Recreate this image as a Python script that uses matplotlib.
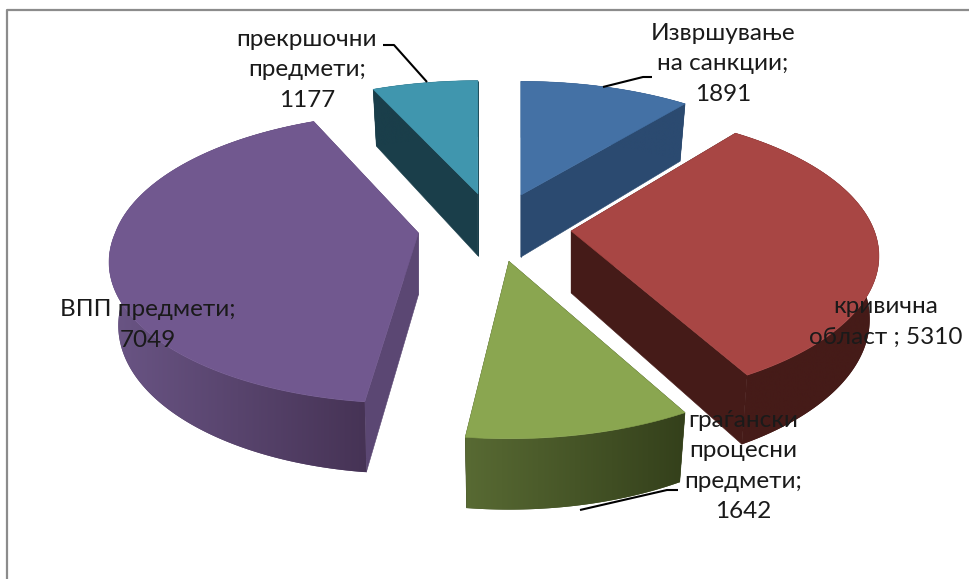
import numpy as np
import matplotlib
matplotlib.use("Agg")
import matplotlib.pyplot as plt
from matplotlib.colors import to_rgb
from matplotlib.patches import Polygon

# ---- data ----
names = ["Извршување на санкции", "кривична област", "граѓански процесни предмети",
         "ВПП предмети", "прекршочни предмети"]
values = [1891, 5310, 1642, 7049, 1177]
label_texts = ["Извршување\nна санкции;\n1891", "кривична\nобласт ; 5310",
               "граѓански\nпроцесни\nпредмети;\n1642", "ВПП предмети;\n7049",
               "прекршочни\nпредмети;\n1177"]

# ---- style ----
top_colors = ["#4471A5", "#A84644", "#8AA650", "#71588F", "#4096AE"]
cut_colors = ["#2B4A70", "#451B18", "#36401C", "#5B4773", "#1A3E4A"]
rim_left = ["#2B4A70", "#451B18", "#586A33", "#6A5585", "#1A3E4A"]
rim_right = ["#2B4A70", "#451B18", "#34401B", "#463355", "#1A3E4A"]
label_pos = [(723, 64), (886, 322), (743, 466), (148, 325), (307, 70)]
leaders = [[(603, 87), (643, 77), (652, 77)],
           [],
           [(580, 510), (667, 490), (678, 490)],
           [],
           [(427, 82), (394, 45), (383, 45)]]
draw_order = [4, 0, 3, 1, 2]

CX, CY = 494.5, 227.5
RX, SY, K = 300.0, 138.0, 0.223
EXPLODE_X, EXPLODE_Y, DEPTH = 0.257, 0.25, 62.0
BOTTOM_X, BOTTOM_Y = 0.97, 1.05
SIDE_LIFT = 7.5
LEFT_SHEAR = 0.06


def project(x, y):
    w = 1 + K * y
    return RX * x / w, -SY * y / w


def slice_geometry(a0, a1):
    ang = np.radians(np.linspace(a0, a1, max(int(a1 - a0) * 2, 8)))
    u, v = project(np.sin(ang), np.cos(ang))
    mid = np.radians((a0 + a1) / 2)
    v = v - SIDE_LIFT * np.sin(mid) ** 2
    u = u + LEFT_SHEAR * min(np.sin(mid), 0) * np.maximum(v, 0)
    ox = EXPLODE_X * RX * np.sin(mid)
    oy = -EXPLODE_Y * SY * np.cos(mid)
    return ox, oy, u, v


fig = plt.figure(figsize=(9.69, 5.79), dpi=100)
ax = fig.add_axes([0, 0, 1, 1])

# frame of the chart area
ax.plot([7.5, 7.5, 969], [579, 9.5, 9.5], color="#8C8C8C", lw=1.6, zorder=1)

total = sum(values)
edges = np.concatenate([[0], np.cumsum(values)]) / total * 360
z = 2
for i in draw_order:
    ox, oy, u, v = slice_geometry(edges[i], edges[i + 1])
    tx, ty = CX + ox, CY + oy
    top = np.column_stack([tx + u, ty + v])
    bot = np.column_stack([tx + u * BOTTOM_X, ty + DEPTH + v * BOTTOM_Y])
    tip_t, tip_b = np.array([tx, ty]), np.array([tx, ty + DEPTH])

    # radial cut faces
    for end in (0, -1):
        ax.add_patch(Polygon([tip_t, top[end], bot[end], tip_b], closed=True,
                             facecolor=cut_colors[i], edgecolor=cut_colors[i],
                             lw=0.4, zorder=z))
    # curved rim: a solid base for a smooth outline, then a left-to-right shade
    rim = np.vstack([top, bot[::-1]])
    c0, c1 = np.array(to_rgb(rim_left[i])), np.array(to_rgb(rim_right[i]))
    base = Polygon(rim, closed=True, facecolor=tuple((c0 + c1) / 2),
                   edgecolor="none", zorder=z + 0.1)
    ax.add_patch(base)
    x0, x1 = rim[:, 0].min(), rim[:, 0].max()
    shade = np.linspace(0, 1, 256)[None, :, None] * (c1 - c0) + c0
    im = ax.imshow(shade, extent=[x0, x1, rim[:, 1].max(), rim[:, 1].min()],
                   aspect="auto", interpolation="bilinear", zorder=z + 0.15)
    im.set_clip_path(Polygon(rim, closed=True, transform=ax.transData))
    # top face
    ax.add_patch(Polygon(np.vstack([tip_t, top]), closed=True,
                         facecolor=top_colors[i], edgecolor=top_colors[i],
                         lw=0.4, zorder=z + 0.2))
    z += 1

ax.set_xlim(0, 969)
ax.set_ylim(579, 0)
ax.axis("off")

for pts in leaders:
    if pts:
        xs, ys = zip(*pts)
        ax.plot(xs, ys, color="black", lw=1.5, zorder=z, solid_capstyle="butt")

for text, (lx, ly) in zip(label_texts, label_pos):
    ax.text(lx, ly, text, ha="center", va="center", family="Lato", fontsize=17.5,
            color="#1A1A1A", linespacing=1.56, zorder=z + 1)

fig.savefig("out.png", dpi=100)
